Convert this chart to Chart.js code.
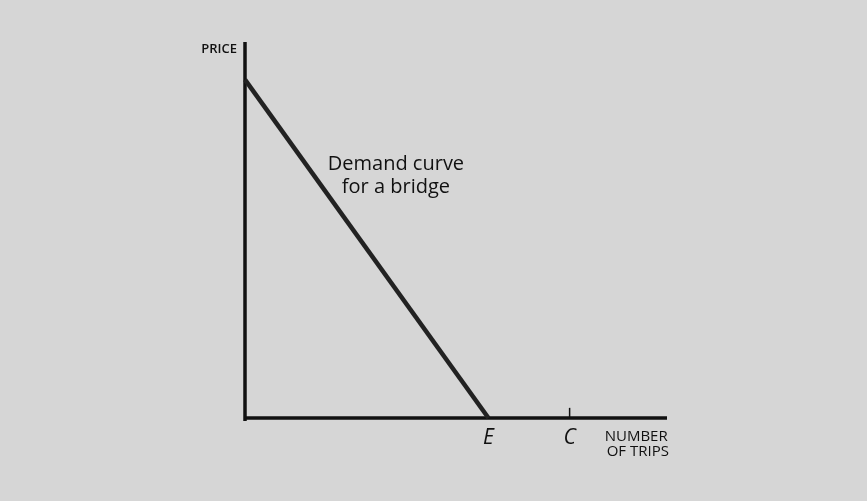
<!DOCTYPE html>
<html>
<head>
<meta charset="utf-8">
<script src="https://cdn.jsdelivr.net/npm/chart.js@4/dist/chart.umd.min.js"></script>
<style>
  html, body { margin: 0; padding: 0; background: #d6d6d6; }
  canvas { display: block; }
</style>
</head>
<body>
<canvas id="myChart" width="867" height="501"></canvas>
<script>
// demand curve: price falls to zero at E trips
const demandTrips = [0, 3];
const demandPrice = [9, 0];
// marked quantities on the trips axis
const markLabels = ['E', 'C'];
const markTrips = [3, 4];
// axis extents
const tripsMax = 5.2;
const priceMax = 10;

const ink = '#111111';

// labels drawn on top, positioned from the scales
const labelsPlugin = {
  id: 'labels',
  afterDatasetsDraw(chart) {
    const c = chart.ctx;
    const x = chart.scales.x, y = chart.scales.y;
    c.save();
    c.fillStyle = ink;

    c.font = '600 13px "Open Sans"';
    c.textAlign = 'right';
    c.textBaseline = 'alphabetic';
    c.fillText('PRICE', x.getPixelForValue(0) - 8, y.getPixelForValue(priceMax) + 11);

    c.font = '20px "Open Sans"';
    c.textAlign = 'center';
    const lx = x.getPixelForValue(1.86);
    c.fillText('Demand curve', lx, y.getPixelForValue(6.6));
    c.fillText('for a bridge', lx, y.getPixelForValue(5.99));

    c.font = 'italic 21px "Open Sans"';
    markLabels.forEach((t, i) => {
      c.fillText(t, x.getPixelForValue(markTrips[i]), y.getPixelForValue(0) + 26);
    });

    c.font = '15px "Open Sans"';
    c.fillText('NUMBER', x.getPixelForValue(4.82), y.getPixelForValue(0) + 23);
    c.fillText('OF TRIPS', x.getPixelForValue(4.84), y.getPixelForValue(0) + 38);
    c.restore();
  }
};

let ctx = document.getElementById('myChart').getContext('2d');
let myChart = new Chart(ctx, {
  type: 'line',
  data: {
    datasets: [
      {
        // demand curve
        data: demandTrips.map((t, i) => ({ x: t, y: demandPrice[i] })),
        borderColor: '#222222',
        borderWidth: 4.5,
      },
      {
        // price axis
        data: [{ x: 0, y: -0.08 }, { x: 0, y: priceMax }],
        borderColor: ink,
        borderWidth: 3.5,
      },
      {
        // trips axis
        data: [{ x: 0, y: 0 }, { x: tripsMax, y: 0 }],
        borderColor: ink,
        borderWidth: 3.5,
      },
      {
        // tick at C
        data: [{ x: markTrips[1], y: 0 }, { x: markTrips[1], y: 0.27 }],
        borderColor: ink,
        borderWidth: 1.5,
      },
    ].map(d => Object.assign(d, { pointRadius: 0, fill: false, clip: false, tension: 0 }))
  },
  plugins: [labelsPlugin],
  options: {
    responsive: false,
    animation: false,
    layout: {
      padding: { left: 245, right: 200, top: 42, bottom: 83 }
    },
    plugins: {
      legend: { display: false },
      tooltip: { enabled: false },
    },
    scales: {
      x: { type: 'linear', min: 0, max: tripsMax, display: false },
      y: { type: 'linear', min: 0, max: priceMax, display: false },
    }
  }
});
</script>
</body>
</html>
